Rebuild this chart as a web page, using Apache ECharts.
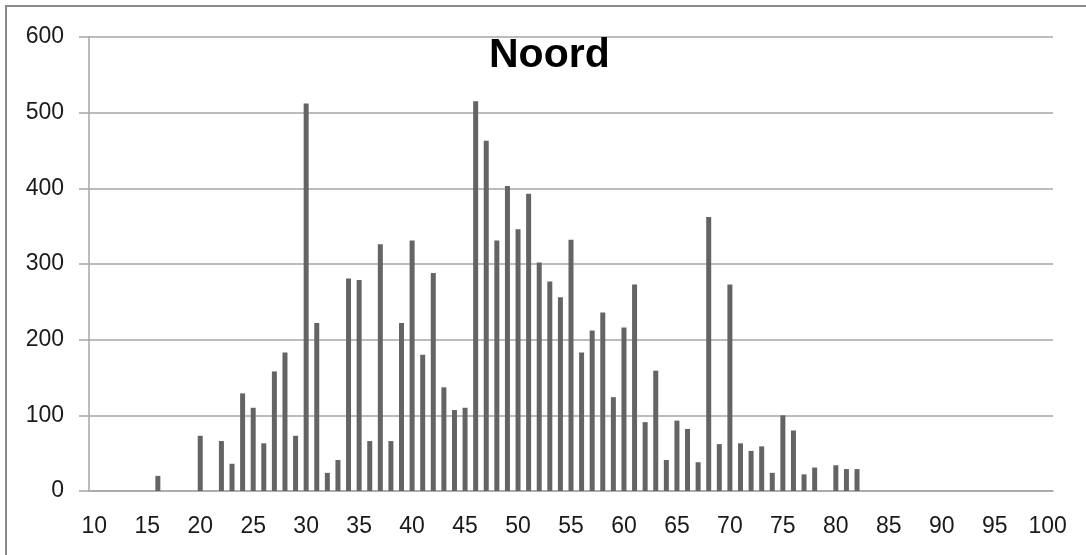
<!DOCTYPE html>
<html>
<head>
  <meta charset="utf-8">
  <title>Noord</title>
  <script src="https://cdn.jsdelivr.net/npm/echarts@6/dist/echarts.min.js"></script>
  <style>
    html, body { margin: 0; padding: 0; background: #fff; }
    #chart { width: 1086px; height: 555px; }
  </style>
</head>
<body>
  <div id="chart"></div>
  <script>
    // leeftijden 10 t/m 100
    var ages = [
      10, 11, 12, 13, 14, 15, 16, 17, 18, 19,
      20, 21, 22, 23, 24, 25, 26, 27, 28, 29,
      30, 31, 32, 33, 34, 35, 36, 37, 38, 39,
      40, 41, 42, 43, 44, 45, 46, 47, 48, 49,
      50, 51, 52, 53, 54, 55, 56, 57, 58, 59,
      60, 61, 62, 63, 64, 65, 66, 67, 68, 69,
      70, 71, 72, 73, 74, 75, 76, 77, 78, 79,
      80, 81, 82, 83, 84, 85, 86, 87, 88, 89,
      90, 91, 92, 93, 94, 95, 96, 97, 98, 99,
      100
    ];

    // aantallen per leeftijd
    var counts = [
      0, 0, 0, 0, 0, 0, 20, 0, 0, 0,
      73, 0, 66, 36, 129, 110, 63, 158, 183, 73,
      512, 222, 24, 41, 281, 279, 66, 326, 66, 222,
      331, 180, 288, 137, 107, 110, 515, 463, 331, 403,
      346, 393, 302, 277, 256, 332, 183, 212, 236, 124,
      216, 273, 91, 159, 41, 93, 82, 38, 362, 62,
      273, 63, 53, 59, 24, 100, 80, 22, 31, 0,
      34, 29, 29, 0, 0, 0, 0, 0, 0, 0,
      0, 0, 0, 0, 0, 0, 0, 0, 0, 0,
      0
    ];

    var chart = echarts.init(document.getElementById('chart'));

    var labelFont = { fontFamily: 'Liberation Sans', fontSize: 23, color: '#1a1a1a' };
    var gridGrey = '#a6a6a6';

    chart.setOption({
      animation: false,
      textStyle: { fontFamily: 'Liberation Sans' },
      title: {
        text: 'Noord',
        left: 489,
        top: 35,
        padding: 0,
        textStyle: { fontFamily: 'Liberation Sans', fontWeight: 'bold', fontSize: 41, color: '#000' }
      },
      graphic: [{
        type: 'rect',
        shape: { x: 6, y: 6, width: 1200, height: 700 },
        style: { fill: 'none', stroke: '#8a8a8a', lineWidth: 2 },
        silent: true
      }],
      grid: { left: 89, right: 33, top: 37, bottom: 64 },
      xAxis: {
        type: 'category',
        data: ages,
        boundaryGap: true,
        axisLine: { lineStyle: { color: gridGrey, width: 1.5 } },
        axisTick: { interval: 4, length: 10, lineStyle: { color: gridGrey, width: 1.5 } },
        axisLabel: Object.assign({ interval: 4, margin: 24 }, labelFont),
        splitLine: { show: false }
      },
      yAxis: {
        type: 'value',
        min: 0,
        max: 600,
        interval: 100,
        axisLine: { show: true, lineStyle: { color: gridGrey, width: 1.5 } },
        axisTick: { show: true, length: 10, lineStyle: { color: gridGrey, width: 1.5 } },
        axisLabel: Object.assign({ margin: 25 }, labelFont),
        splitLine: { lineStyle: { color: gridGrey, width: 1.5 } }
      },
      series: [{
        type: 'bar',
        data: counts,
        barWidth: 5,
        itemStyle: { color: '#646464' }
      }]
    });
  </script>
</body>
</html>
